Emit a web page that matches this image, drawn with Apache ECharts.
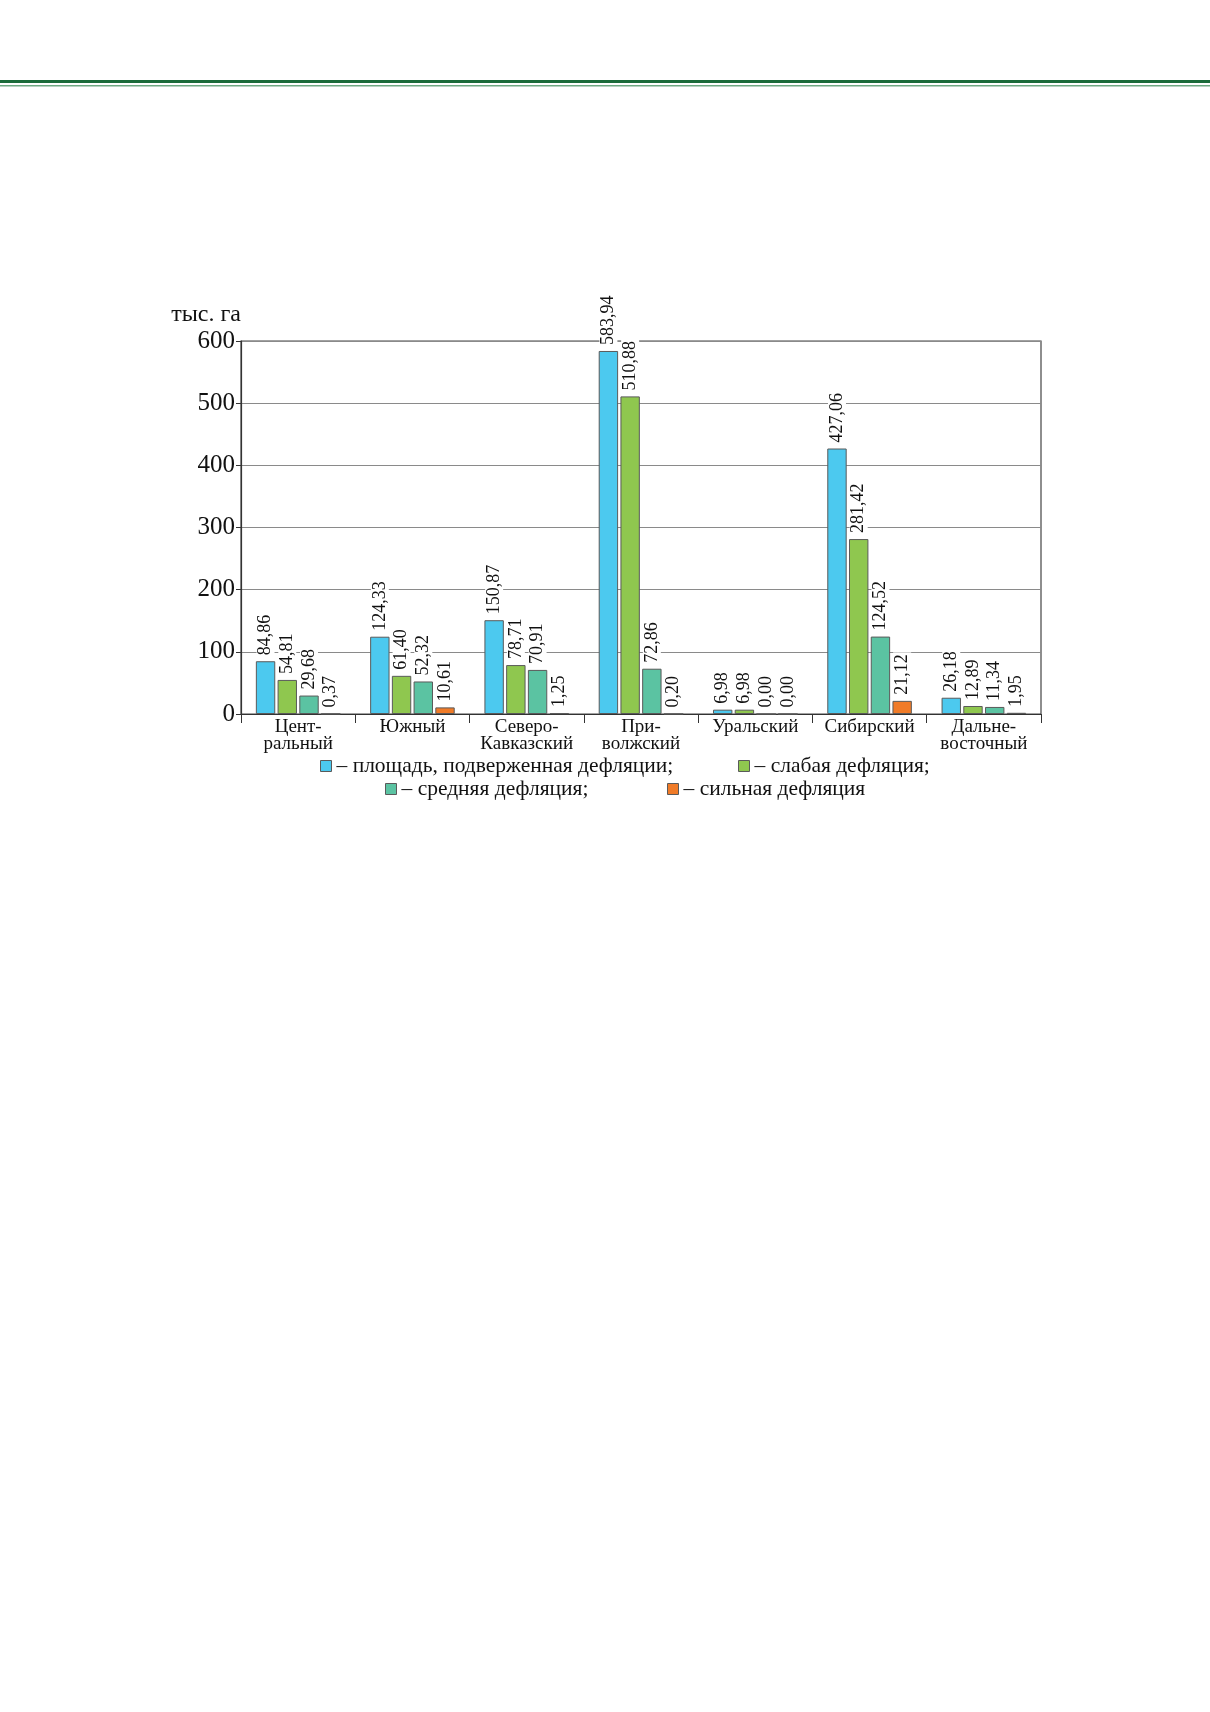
<!DOCTYPE html>
<html>
<head>
<meta charset="utf-8">
<script src="https://cdn.jsdelivr.net/npm/echarts@6/dist/echarts.min.js"></script>
<style>
    html, body { margin: 0; padding: 0; background: #fff; }
    #chart { width: 1210px; height: 1712px; }
</style>
</head>
<body>
<div id="chart"></div>
<script>
const regions = ['Цент-\nральный', 'Южный', 'Северо-\nКавказский', 'При-\nволжский', 'Уральский', 'Сибирский', 'Дальне-\nвосточный'];
const seriesNames = ['площадь, подверженная дефляции', 'слабая дефляция', 'средняя дефляция', 'сильная дефляция'];
const totalArea = [84.86, 124.33, 150.87, 583.94, 6.98, 427.06, 26.18];
const weakDefl = [54.81, 61.40, 78.71, 510.88, 6.98, 281.42, 12.89];
const mediumDefl = [29.68, 52.32, 70.91, 72.86, 0.00, 124.52, 11.34];
const strongDefl = [0.37, 10.61, 1.25, 0.20, 0.00, 21.12, 1.95];
const yTicks = [0, 100, 200, 300, 400, 500, 600];

const colors = ['#4cc9ef', '#8fc74f', '#5bc3a2', '#f07b28'];
const serif = '"Liberation Serif", "DejaVu Serif", serif';

const chart = echarts.init(document.getElementById('chart'));

function makeSeries(name, data, color) {
    return {
        name: name,
        type: 'bar',
        data: data,
        barGap: '12%',
        barCategoryGap: '26%',
        itemStyle: {
            color: color,
            borderColor: '#5a5a5a',
            borderWidth: 1
        },
        label: {
            show: true,
            position: 'top',
            rotate: 90,
            align: 'left',
            verticalAlign: 'middle',
            distance: 4,
            fontFamily: serif,
            fontSize: 18,
            color: '#111',
            backgroundColor: '#fff',
            padding: [0, 2, 0, 2],
            formatter: p => p.value.toFixed(2).replace('.', ',')
        }
    };
}

function makeLegend(name, left, top, suffix) {
    return {
        data: [name],
        left: left,
        top: top,
        itemWidth: 11,
        itemHeight: 11,
        icon: 'rect',
        selectedMode: false,
        itemStyle: { borderColor: '#5a5a5a', borderWidth: 1 },
        textStyle: { fontFamily: serif, fontSize: 21.5, color: '#111' },
        formatter: n => '– ' + n + suffix
    };
}

chart.setOption({
    backgroundColor: '#fff',
    animation: false,
    graphic: [
        { type: 'rect', shape: { x: 0, y: 80, width: 1210, height: 3 }, style: { fill: '#1b6b3a' } },
        { type: 'rect', shape: { x: 0, y: 85, width: 1210, height: 1.5 }, style: { fill: '#6fa883' } }
    ],
    legend: [
        makeLegend(seriesNames[0], 315, 750, ';'),
        makeLegend(seriesNames[1], 733, 750, ';'),
        makeLegend(seriesNames[2], 380, 773, ';'),
        makeLegend(seriesNames[3], 662, 773, '')
    ],
    grid: {
        left: 241,
        right: 169,
        top: 341,
        bottom: 998,
        show: true,
        borderColor: '#444',
        borderWidth: 1.2
    },
    xAxis: {
        type: 'category',
        data: regions,
        axisLine: { lineStyle: { color: '#333', width: 1.2 } },
        axisTick: { show: true, interval: 0, length: 9, lineStyle: { color: '#333' } },
        axisLabel: {
            interval: 0,
            margin: 5,
            fontFamily: serif,
            fontSize: 19,
            lineHeight: 17,
            color: '#111'
        }
    },
    yAxis: {
        type: 'value',
        min: yTicks[0],
        max: yTicks[yTicks.length - 1],
        interval: 100,
        name: 'тыс. га',
        nameLocation: 'end',
        nameGap: 14,
        nameTextStyle: {
            fontFamily: serif,
            fontSize: 24,
            color: '#111',
            align: 'right'
        },
        axisLine: { show: true, lineStyle: { color: '#333', width: 1.2 } },
        axisTick: { show: true, length: 5, lineStyle: { color: '#333' } },
        axisLabel: {
            margin: 6,
            fontFamily: serif,
            fontSize: 25,
            color: '#111'
        },
        splitLine: { lineStyle: { color: '#8a8a8a', width: 1 } }
    },
    series: [
        makeSeries(seriesNames[0], totalArea, colors[0]),
        makeSeries(seriesNames[1], weakDefl, colors[1]),
        makeSeries(seriesNames[2], mediumDefl, colors[2]),
        makeSeries(seriesNames[3], strongDefl, colors[3])
    ]
});
</script>
</body>
</html>
